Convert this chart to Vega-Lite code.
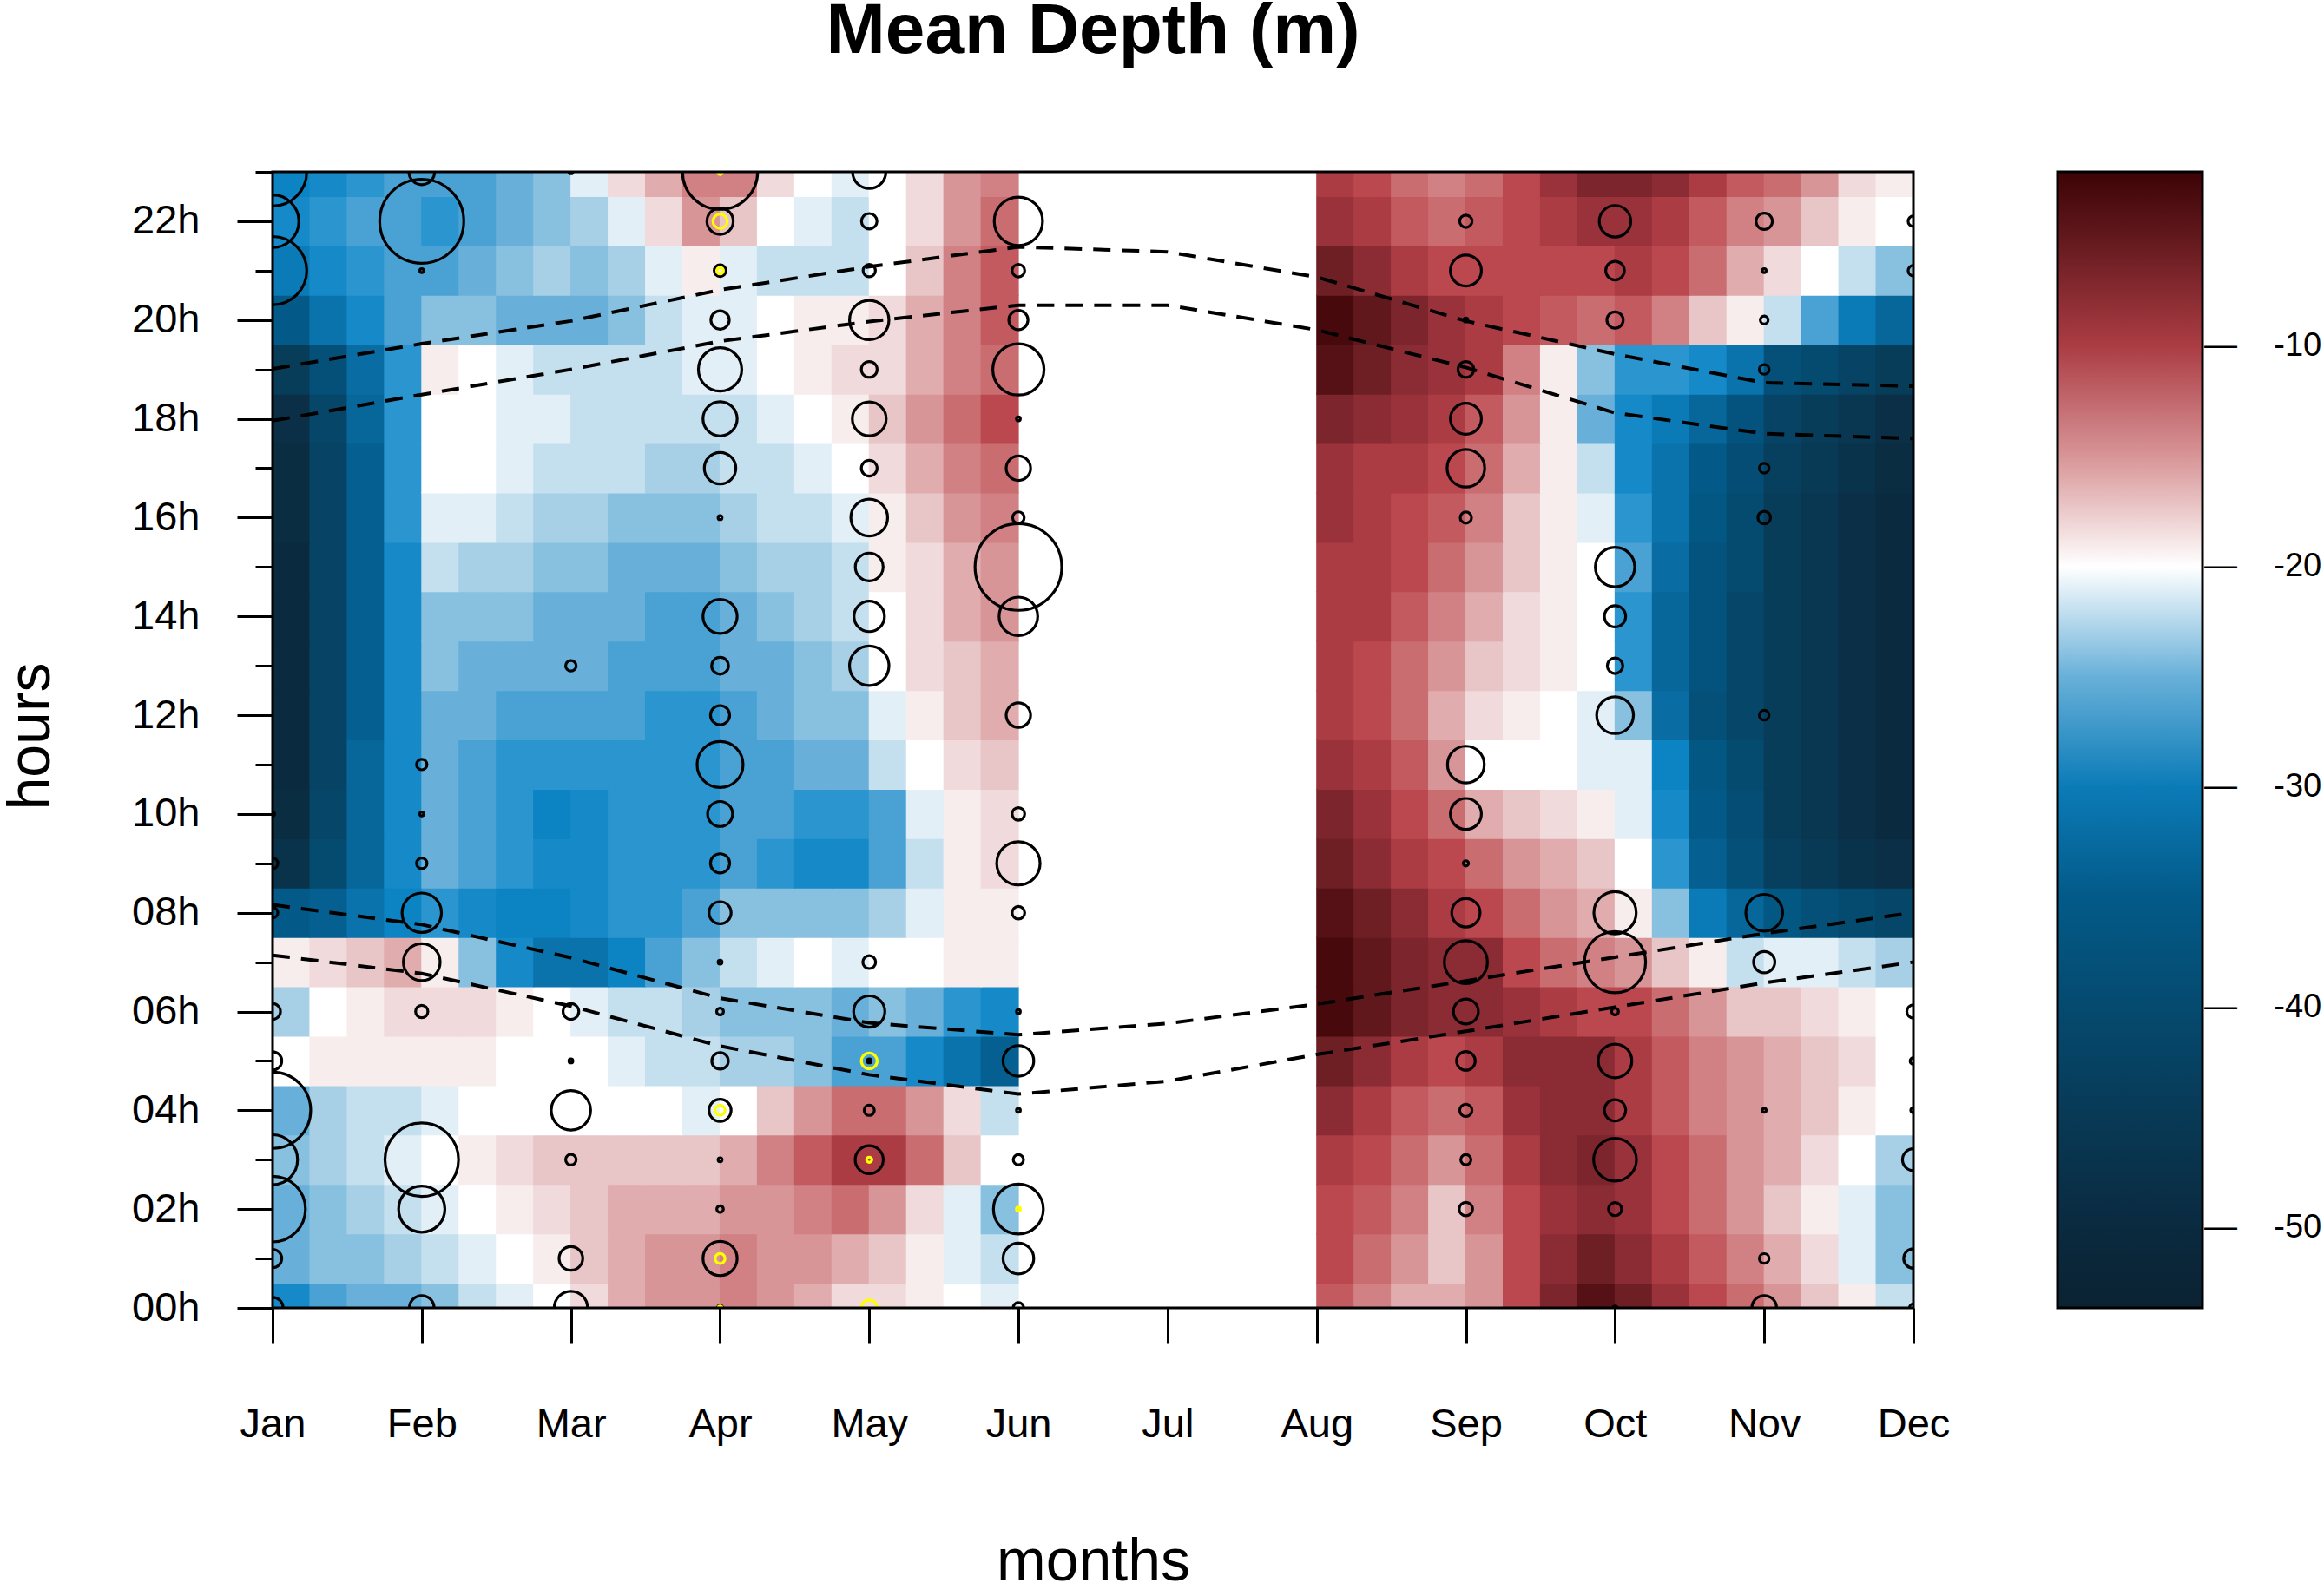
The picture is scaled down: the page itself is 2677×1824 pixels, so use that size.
{
  "$schema": "https://vega.github.io/schema/vega-lite/v6.json",
  "width": 1890,
  "height": 1309,
  "autosize": {"type": "none"},
  "padding": {"left": 314, "top": 198, "right": 473, "bottom": 317},
  "background": "white",
  "config": {
    "font": "Liberation Sans",
    "view": {"stroke": null}
  },
  "title": {
    "text": "Mean Depth (m)",
    "fontSize": 82,
    "fontWeight": "bold",
    "color": "black",
    "anchor": "middle",
    "baseline": "alphabetic",
    "offset": 31
  },
  "datasets": {
    "cells": [
      {"m":1.125,"h":0,"v":-28},{"m":1.375,"h":0,"v":-26},{"m":1.625,"h":0,"v":-25},{"m":1.875,"h":0,"v":-25},
      {"m":1.125,"h":1,"v":-25},{"m":1.375,"h":1,"v":-24},{"m":1.625,"h":1,"v":-24},{"m":1.875,"h":1,"v":-23},
      {"m":1.125,"h":2,"v":-25},{"m":1.375,"h":2,"v":-24},{"m":1.625,"h":2,"v":-23},{"m":1.875,"h":2,"v":-22},
      {"m":1.125,"h":3,"v":-24},{"m":1.375,"h":3,"v":-23},{"m":1.625,"h":3,"v":-22},{"m":1.875,"h":3,"v":-21},
      {"m":1.125,"h":4,"v":-25},{"m":1.375,"h":4,"v":-23},{"m":1.625,"h":4,"v":-22},{"m":1.875,"h":4,"v":-22},
      {"m":1.125,"h":5,"v":-20},{"m":1.375,"h":5,"v":-19},{"m":1.625,"h":5,"v":-19},{"m":1.875,"h":5,"v":-19},
      {"m":1.125,"h":6,"v":-23},{"m":1.375,"h":6,"v":-20},{"m":1.625,"h":6,"v":-19},{"m":1.875,"h":6,"v":-18},
      {"m":1.125,"h":7,"v":-19},{"m":1.375,"h":7,"v":-18},{"m":1.625,"h":7,"v":-17},{"m":1.875,"h":7,"v":-16},
      {"m":1.125,"h":8,"v":-35},{"m":1.375,"h":8,"v":-34},{"m":1.625,"h":8,"v":-31},{"m":1.875,"h":8,"v":-29},
      {"m":1.125,"h":9,"v":-47},{"m":1.375,"h":9,"v":-40},{"m":1.625,"h":9,"v":-33},{"m":1.875,"h":9,"v":-28},
      {"m":1.125,"h":10,"v":-49},{"m":1.375,"h":10,"v":-41},{"m":1.625,"h":10,"v":-33},{"m":1.875,"h":10,"v":-28},
      {"m":1.125,"h":11,"v":-50},{"m":1.375,"h":11,"v":-42},{"m":1.625,"h":11,"v":-33},{"m":1.875,"h":11,"v":-28},
      {"m":1.125,"h":12,"v":-50},{"m":1.375,"h":12,"v":-42},{"m":1.625,"h":12,"v":-34},{"m":1.875,"h":12,"v":-28},
      {"m":1.125,"h":13,"v":-50},{"m":1.375,"h":13,"v":-42},{"m":1.625,"h":13,"v":-34},{"m":1.875,"h":13,"v":-28},
      {"m":1.125,"h":14,"v":-50},{"m":1.375,"h":14,"v":-42},{"m":1.625,"h":14,"v":-34},{"m":1.875,"h":14,"v":-28},
      {"m":1.125,"h":15,"v":-50},{"m":1.375,"h":15,"v":-42},{"m":1.625,"h":15,"v":-34},{"m":1.875,"h":15,"v":-28},
      {"m":1.125,"h":16,"v":-49},{"m":1.375,"h":16,"v":-42},{"m":1.625,"h":16,"v":-34},{"m":1.875,"h":16,"v":-27},
      {"m":1.125,"h":17,"v":-49},{"m":1.375,"h":17,"v":-42},{"m":1.625,"h":17,"v":-34},{"m":1.875,"h":17,"v":-27},
      {"m":1.125,"h":18,"v":-48},{"m":1.375,"h":18,"v":-41},{"m":1.625,"h":18,"v":-33},{"m":1.875,"h":18,"v":-27},
      {"m":1.125,"h":19,"v":-44},{"m":1.375,"h":19,"v":-38},{"m":1.625,"h":19,"v":-32},{"m":1.875,"h":19,"v":-27},
      {"m":1.125,"h":20,"v":-35},{"m":1.375,"h":20,"v":-31},{"m":1.625,"h":20,"v":-28},{"m":1.875,"h":20,"v":-26},
      {"m":1.125,"h":21,"v":-30},{"m":1.375,"h":21,"v":-28},{"m":1.625,"h":21,"v":-27},{"m":1.875,"h":21,"v":-26},
      {"m":1.125,"h":22,"v":-28},{"m":1.375,"h":22,"v":-27},{"m":1.625,"h":22,"v":-26},{"m":1.875,"h":22,"v":-26},
      {"m":1.125,"h":23,"v":-29},{"m":1.375,"h":23,"v":-28},{"m":1.625,"h":23,"v":-27},{"m":1.875,"h":23,"v":-26},
      {"m":2.125,"h":0,"v":-24},{"m":2.375,"h":0,"v":-22},{"m":2.625,"h":0,"v":-21},{"m":2.875,"h":0,"v":-20},
      {"m":2.125,"h":1,"v":-22},{"m":2.375,"h":1,"v":-21},{"m":2.625,"h":1,"v":-20},{"m":2.875,"h":1,"v":-19},
      {"m":2.125,"h":2,"v":-21},{"m":2.375,"h":2,"v":-20},{"m":2.625,"h":2,"v":-19},{"m":2.875,"h":2,"v":-18},
      {"m":2.125,"h":3,"v":-20},{"m":2.375,"h":3,"v":-19},{"m":2.625,"h":3,"v":-18},{"m":2.875,"h":3,"v":-17},
      {"m":2.125,"h":4,"v":-21},{"m":2.375,"h":4,"v":-20},{"m":2.625,"h":4,"v":-20},{"m":2.875,"h":4,"v":-20},
      {"m":2.125,"h":5,"v":-19},{"m":2.375,"h":5,"v":-19},{"m":2.625,"h":5,"v":-20},{"m":2.875,"h":5,"v":-20},
      {"m":2.125,"h":6,"v":-18},{"m":2.375,"h":6,"v":-18},{"m":2.625,"h":6,"v":-19},{"m":2.875,"h":6,"v":-20},
      {"m":2.125,"h":7,"v":-19},{"m":2.375,"h":7,"v":-24},{"m":2.625,"h":7,"v":-28},{"m":2.875,"h":7,"v":-31},
      {"m":2.125,"h":8,"v":-27},{"m":2.375,"h":8,"v":-28},{"m":2.625,"h":8,"v":-29},{"m":2.875,"h":8,"v":-29},
      {"m":2.125,"h":9,"v":-25},{"m":2.375,"h":9,"v":-26},{"m":2.625,"h":9,"v":-27},{"m":2.875,"h":9,"v":-28},
      {"m":2.125,"h":10,"v":-25},{"m":2.375,"h":10,"v":-26},{"m":2.625,"h":10,"v":-27},{"m":2.875,"h":10,"v":-29},
      {"m":2.125,"h":11,"v":-25},{"m":2.375,"h":11,"v":-26},{"m":2.625,"h":11,"v":-27},{"m":2.875,"h":11,"v":-27},
      {"m":2.125,"h":12,"v":-25},{"m":2.375,"h":12,"v":-25},{"m":2.625,"h":12,"v":-26},{"m":2.875,"h":12,"v":-26},
      {"m":2.125,"h":13,"v":-24},{"m":2.375,"h":13,"v":-25},{"m":2.625,"h":13,"v":-25},{"m":2.875,"h":13,"v":-25},
      {"m":2.125,"h":14,"v":-24},{"m":2.375,"h":14,"v":-24},{"m":2.625,"h":14,"v":-24},{"m":2.875,"h":14,"v":-25},
      {"m":2.125,"h":15,"v":-22},{"m":2.375,"h":15,"v":-23},{"m":2.625,"h":15,"v":-23},{"m":2.875,"h":15,"v":-24},
      {"m":2.125,"h":16,"v":-21},{"m":2.375,"h":16,"v":-21},{"m":2.625,"h":16,"v":-22},{"m":2.875,"h":16,"v":-23},
      {"m":2.125,"h":17,"v":-20},{"m":2.375,"h":17,"v":-20},{"m":2.625,"h":17,"v":-21},{"m":2.875,"h":17,"v":-22},
      {"m":2.125,"h":18,"v":-20},{"m":2.375,"h":18,"v":-20},{"m":2.625,"h":18,"v":-21},{"m":2.875,"h":18,"v":-21},
      {"m":2.125,"h":19,"v":-19},{"m":2.375,"h":19,"v":-20},{"m":2.625,"h":19,"v":-21},{"m":2.875,"h":19,"v":-22},
      {"m":2.125,"h":20,"v":-24},{"m":2.375,"h":20,"v":-24},{"m":2.625,"h":20,"v":-25},{"m":2.875,"h":20,"v":-25},
      {"m":2.125,"h":21,"v":-26},{"m":2.375,"h":21,"v":-25},{"m":2.625,"h":21,"v":-24},{"m":2.875,"h":21,"v":-23},
      {"m":2.125,"h":22,"v":-27},{"m":2.375,"h":22,"v":-26},{"m":2.625,"h":22,"v":-25},{"m":2.875,"h":22,"v":-24},
      {"m":2.125,"h":23,"v":-26},{"m":2.375,"h":23,"v":-26},{"m":2.625,"h":23,"v":-25},{"m":2.875,"h":23,"v":-24},
      {"m":3.125,"h":0,"v":-18},{"m":3.375,"h":0,"v":-16},{"m":3.625,"h":0,"v":-15},{"m":3.875,"h":0,"v":-15},
      {"m":3.125,"h":1,"v":-17},{"m":3.375,"h":1,"v":-16},{"m":3.625,"h":1,"v":-15},{"m":3.875,"h":1,"v":-15},
      {"m":3.125,"h":2,"v":-17},{"m":3.375,"h":2,"v":-16},{"m":3.625,"h":2,"v":-16},{"m":3.875,"h":2,"v":-16},
      {"m":3.125,"h":3,"v":-17},{"m":3.375,"h":3,"v":-17},{"m":3.625,"h":3,"v":-17},{"m":3.875,"h":3,"v":-17},
      {"m":3.125,"h":4,"v":-20},{"m":3.375,"h":4,"v":-20},{"m":3.625,"h":4,"v":-20},{"m":3.875,"h":4,"v":-21},
      {"m":3.125,"h":5,"v":-20},{"m":3.375,"h":5,"v":-21},{"m":3.625,"h":5,"v":-22},{"m":3.875,"h":5,"v":-22},
      {"m":3.125,"h":6,"v":-21},{"m":3.375,"h":6,"v":-22},{"m":3.625,"h":6,"v":-22},{"m":3.875,"h":6,"v":-23},
      {"m":3.125,"h":7,"v":-31},{"m":3.375,"h":7,"v":-29},{"m":3.625,"h":7,"v":-26},{"m":3.875,"h":7,"v":-24},
      {"m":3.125,"h":8,"v":-28},{"m":3.375,"h":8,"v":-27},{"m":3.625,"h":8,"v":-27},{"m":3.875,"h":8,"v":-26},
      {"m":3.125,"h":9,"v":-28},{"m":3.375,"h":9,"v":-27},{"m":3.625,"h":9,"v":-27},{"m":3.875,"h":9,"v":-27},
      {"m":3.125,"h":10,"v":-28},{"m":3.375,"h":10,"v":-27},{"m":3.625,"h":10,"v":-27},{"m":3.875,"h":10,"v":-27},
      {"m":3.125,"h":11,"v":-27},{"m":3.375,"h":11,"v":-27},{"m":3.625,"h":11,"v":-27},{"m":3.875,"h":11,"v":-27},
      {"m":3.125,"h":12,"v":-26},{"m":3.375,"h":12,"v":-26},{"m":3.625,"h":12,"v":-27},{"m":3.875,"h":12,"v":-27},
      {"m":3.125,"h":13,"v":-25},{"m":3.375,"h":13,"v":-26},{"m":3.625,"h":13,"v":-26},{"m":3.875,"h":13,"v":-26},
      {"m":3.125,"h":14,"v":-25},{"m":3.375,"h":14,"v":-25},{"m":3.625,"h":14,"v":-26},{"m":3.875,"h":14,"v":-26},
      {"m":3.125,"h":15,"v":-24},{"m":3.375,"h":15,"v":-25},{"m":3.625,"h":15,"v":-25},{"m":3.875,"h":15,"v":-25},
      {"m":3.125,"h":16,"v":-23},{"m":3.375,"h":16,"v":-24},{"m":3.625,"h":16,"v":-24},{"m":3.875,"h":16,"v":-24},
      {"m":3.125,"h":17,"v":-22},{"m":3.375,"h":17,"v":-22},{"m":3.625,"h":17,"v":-23},{"m":3.875,"h":17,"v":-23},
      {"m":3.125,"h":18,"v":-22},{"m":3.375,"h":18,"v":-22},{"m":3.625,"h":18,"v":-22},{"m":3.875,"h":18,"v":-22},
      {"m":3.125,"h":19,"v":-22},{"m":3.375,"h":19,"v":-22},{"m":3.625,"h":19,"v":-22},{"m":3.875,"h":19,"v":-21},
      {"m":3.125,"h":20,"v":-25},{"m":3.375,"h":20,"v":-24},{"m":3.625,"h":20,"v":-22},{"m":3.875,"h":20,"v":-21},
      {"m":3.125,"h":21,"v":-24},{"m":3.375,"h":21,"v":-23},{"m":3.625,"h":21,"v":-21},{"m":3.875,"h":21,"v":-19},
      {"m":3.125,"h":22,"v":-23},{"m":3.375,"h":22,"v":-21},{"m":3.625,"h":22,"v":-18},{"m":3.875,"h":22,"v":-15},
      {"m":3.125,"h":23,"v":-21},{"m":3.375,"h":23,"v":-18},{"m":3.625,"h":23,"v":-16},{"m":3.875,"h":23,"v":-14},
      {"m":4.125,"h":0,"v":-14},{"m":4.375,"h":0,"v":-15},{"m":4.625,"h":0,"v":-16},{"m":4.875,"h":0,"v":-18},
      {"m":4.125,"h":1,"v":-14},{"m":4.375,"h":1,"v":-15},{"m":4.625,"h":1,"v":-15},{"m":4.875,"h":1,"v":-16},
      {"m":4.125,"h":2,"v":-15},{"m":4.375,"h":2,"v":-15},{"m":4.625,"h":2,"v":-14},{"m":4.875,"h":2,"v":-13},
      {"m":4.125,"h":3,"v":-16},{"m":4.375,"h":3,"v":-14},{"m":4.625,"h":3,"v":-12},{"m":4.875,"h":3,"v":-10},
      {"m":4.125,"h":4,"v":-20},{"m":4.375,"h":4,"v":-17},{"m":4.625,"h":4,"v":-15},{"m":4.875,"h":4,"v":-13},
      {"m":4.125,"h":5,"v":-23},{"m":4.375,"h":5,"v":-23},{"m":4.625,"h":5,"v":-24},{"m":4.875,"h":5,"v":-26},
      {"m":4.125,"h":6,"v":-24},{"m":4.375,"h":6,"v":-24},{"m":4.625,"h":6,"v":-24},{"m":4.875,"h":6,"v":-25},
      {"m":4.125,"h":7,"v":-22},{"m":4.375,"h":7,"v":-21},{"m":4.625,"h":7,"v":-20},{"m":4.875,"h":7,"v":-21},
      {"m":4.125,"h":8,"v":-24},{"m":4.375,"h":8,"v":-24},{"m":4.625,"h":8,"v":-24},{"m":4.875,"h":8,"v":-24},
      {"m":4.125,"h":9,"v":-26},{"m":4.375,"h":9,"v":-27},{"m":4.625,"h":9,"v":-28},{"m":4.875,"h":9,"v":-28},
      {"m":4.125,"h":10,"v":-26},{"m":4.375,"h":10,"v":-26},{"m":4.625,"h":10,"v":-27},{"m":4.875,"h":10,"v":-27},
      {"m":4.125,"h":11,"v":-26},{"m":4.375,"h":11,"v":-26},{"m":4.625,"h":11,"v":-25},{"m":4.875,"h":11,"v":-25},
      {"m":4.125,"h":12,"v":-26},{"m":4.375,"h":12,"v":-25},{"m":4.625,"h":12,"v":-24},{"m":4.875,"h":12,"v":-24},
      {"m":4.125,"h":13,"v":-25},{"m":4.375,"h":13,"v":-25},{"m":4.625,"h":13,"v":-24},{"m":4.875,"h":13,"v":-23},
      {"m":4.125,"h":14,"v":-25},{"m":4.375,"h":14,"v":-24},{"m":4.625,"h":14,"v":-23},{"m":4.875,"h":14,"v":-22},
      {"m":4.125,"h":15,"v":-24},{"m":4.375,"h":15,"v":-23},{"m":4.625,"h":15,"v":-23},{"m":4.875,"h":15,"v":-22},
      {"m":4.125,"h":16,"v":-23},{"m":4.375,"h":16,"v":-22},{"m":4.625,"h":16,"v":-22},{"m":4.875,"h":16,"v":-21},
      {"m":4.125,"h":17,"v":-22},{"m":4.375,"h":17,"v":-22},{"m":4.625,"h":17,"v":-21},{"m":4.875,"h":17,"v":-20},
      {"m":4.125,"h":18,"v":-22},{"m":4.375,"h":18,"v":-21},{"m":4.625,"h":18,"v":-20},{"m":4.875,"h":18,"v":-19},
      {"m":4.125,"h":19,"v":-21},{"m":4.375,"h":19,"v":-20},{"m":4.625,"h":19,"v":-19},{"m":4.875,"h":19,"v":-18},
      {"m":4.125,"h":20,"v":-21},{"m":4.375,"h":20,"v":-20},{"m":4.625,"h":20,"v":-19},{"m":4.875,"h":20,"v":-19},
      {"m":4.125,"h":21,"v":-21},{"m":4.375,"h":21,"v":-22},{"m":4.625,"h":21,"v":-22},{"m":4.875,"h":21,"v":-22},
      {"m":4.125,"h":22,"v":-17},{"m":4.375,"h":22,"v":-20},{"m":4.625,"h":22,"v":-21},{"m":4.875,"h":22,"v":-22},
      {"m":4.125,"h":23,"v":-14},{"m":4.375,"h":23,"v":-18},{"m":4.625,"h":23,"v":-20},{"m":4.875,"h":23,"v":-21},
      {"m":5.125,"h":0,"v":-18},{"m":5.375,"h":0,"v":-19},{"m":5.625,"h":0,"v":-20},{"m":5.875,"h":0,"v":-21},
      {"m":5.125,"h":1,"v":-17},{"m":5.375,"h":1,"v":-19},{"m":5.625,"h":1,"v":-21},{"m":5.875,"h":1,"v":-22},
      {"m":5.125,"h":2,"v":-15},{"m":5.375,"h":2,"v":-18},{"m":5.625,"h":2,"v":-21},{"m":5.875,"h":2,"v":-24},
      {"m":5.125,"h":3,"v":-10},{"m":5.375,"h":3,"v":-13},{"m":5.625,"h":3,"v":-17},{"m":5.875,"h":3,"v":-20},
      {"m":5.125,"h":4,"v":-13},{"m":5.375,"h":4,"v":-15},{"m":5.625,"h":4,"v":-18},{"m":5.875,"h":4,"v":-22},
      {"m":5.125,"h":5,"v":-26},{"m":5.375,"h":5,"v":-28},{"m":5.625,"h":5,"v":-31},{"m":5.875,"h":5,"v":-34},
      {"m":5.125,"h":6,"v":-24},{"m":5.375,"h":6,"v":-25},{"m":5.625,"h":6,"v":-27},{"m":5.875,"h":6,"v":-28},
      {"m":5.125,"h":7,"v":-20},{"m":5.375,"h":7,"v":-20},{"m":5.625,"h":7,"v":-19},{"m":5.875,"h":7,"v":-19},
      {"m":5.125,"h":8,"v":-23},{"m":5.375,"h":8,"v":-21},{"m":5.625,"h":8,"v":-19},{"m":5.875,"h":8,"v":-19},
      {"m":5.125,"h":9,"v":-26},{"m":5.375,"h":9,"v":-22},{"m":5.625,"h":9,"v":-19},{"m":5.875,"h":9,"v":-18},
      {"m":5.125,"h":10,"v":-26},{"m":5.375,"h":10,"v":-21},{"m":5.625,"h":10,"v":-19},{"m":5.875,"h":10,"v":-18},
      {"m":5.125,"h":11,"v":-22},{"m":5.375,"h":11,"v":-20},{"m":5.625,"h":11,"v":-18},{"m":5.875,"h":11,"v":-17},
      {"m":5.125,"h":12,"v":-21},{"m":5.375,"h":12,"v":-19},{"m":5.625,"h":12,"v":-17},{"m":5.875,"h":12,"v":-16},
      {"m":5.125,"h":13,"v":-20},{"m":5.375,"h":13,"v":-18},{"m":5.625,"h":13,"v":-17},{"m":5.875,"h":13,"v":-16},
      {"m":5.125,"h":14,"v":-20},{"m":5.375,"h":14,"v":-18},{"m":5.625,"h":14,"v":-16},{"m":5.875,"h":14,"v":-15},
      {"m":5.125,"h":15,"v":-19},{"m":5.375,"h":15,"v":-18},{"m":5.625,"h":15,"v":-16},{"m":5.875,"h":15,"v":-15},
      {"m":5.125,"h":16,"v":-19},{"m":5.375,"h":16,"v":-17},{"m":5.625,"h":16,"v":-15},{"m":5.875,"h":16,"v":-14},
      {"m":5.125,"h":17,"v":-18},{"m":5.375,"h":17,"v":-16},{"m":5.625,"h":17,"v":-14},{"m":5.875,"h":17,"v":-13},
      {"m":5.125,"h":18,"v":-17},{"m":5.375,"h":18,"v":-15},{"m":5.625,"h":18,"v":-13},{"m":5.875,"h":18,"v":-11},
      {"m":5.125,"h":19,"v":-18},{"m":5.375,"h":19,"v":-16},{"m":5.625,"h":19,"v":-14},{"m":5.875,"h":19,"v":-13},
      {"m":5.125,"h":20,"v":-18},{"m":5.375,"h":20,"v":-16},{"m":5.625,"h":20,"v":-14},{"m":5.875,"h":20,"v":-12},
      {"m":5.125,"h":21,"v":-20},{"m":5.375,"h":21,"v":-17},{"m":5.625,"h":21,"v":-14},{"m":5.875,"h":21,"v":-12},
      {"m":5.125,"h":22,"v":-20},{"m":5.375,"h":22,"v":-18},{"m":5.625,"h":22,"v":-15},{"m":5.875,"h":22,"v":-13},
      {"m":5.125,"h":23,"v":-20},{"m":5.375,"h":23,"v":-18},{"m":5.625,"h":23,"v":-15},{"m":5.875,"h":23,"v":-14},
      {"m":8.125,"h":0,"v":-12},{"m":8.375,"h":0,"v":-14},{"m":8.625,"h":0,"v":-16},{"m":8.875,"h":0,"v":-16},
      {"m":8.125,"h":1,"v":-11},{"m":8.375,"h":1,"v":-13},{"m":8.625,"h":1,"v":-15},{"m":8.875,"h":1,"v":-17},
      {"m":8.125,"h":2,"v":-11},{"m":8.375,"h":2,"v":-12},{"m":8.625,"h":2,"v":-14},{"m":8.875,"h":2,"v":-17},
      {"m":8.125,"h":3,"v":-10},{"m":8.375,"h":3,"v":-11},{"m":8.625,"h":3,"v":-13},{"m":8.875,"h":3,"v":-15},
      {"m":8.125,"h":4,"v":-8},{"m":8.375,"h":4,"v":-10},{"m":8.625,"h":4,"v":-12},{"m":8.875,"h":4,"v":-13},
      {"m":8.125,"h":5,"v":-6},{"m":8.375,"h":5,"v":-8},{"m":8.625,"h":5,"v":-10},{"m":8.875,"h":5,"v":-11},
      {"m":8.125,"h":6,"v":-3},{"m":8.375,"h":6,"v":-5},{"m":8.625,"h":6,"v":-7},{"m":8.875,"h":6,"v":-8},
      {"m":8.125,"h":7,"v":-3},{"m":8.375,"h":7,"v":-5},{"m":8.625,"h":7,"v":-7},{"m":8.875,"h":7,"v":-8},
      {"m":8.125,"h":8,"v":-4},{"m":8.375,"h":8,"v":-6},{"m":8.625,"h":8,"v":-8},{"m":8.875,"h":8,"v":-10},
      {"m":8.125,"h":9,"v":-6},{"m":8.375,"h":9,"v":-8},{"m":8.625,"h":9,"v":-10},{"m":8.875,"h":9,"v":-11},
      {"m":8.125,"h":10,"v":-7},{"m":8.375,"h":10,"v":-9},{"m":8.625,"h":10,"v":-11},{"m":8.875,"h":10,"v":-13},
      {"m":8.125,"h":11,"v":-9},{"m":8.375,"h":11,"v":-10},{"m":8.625,"h":11,"v":-12},{"m":8.875,"h":11,"v":-15},
      {"m":8.125,"h":12,"v":-10},{"m":8.375,"h":12,"v":-11},{"m":8.625,"h":12,"v":-13},{"m":8.875,"h":12,"v":-16},
      {"m":8.125,"h":13,"v":-10},{"m":8.375,"h":13,"v":-11},{"m":8.625,"h":13,"v":-13},{"m":8.875,"h":13,"v":-15},
      {"m":8.125,"h":14,"v":-10},{"m":8.375,"h":14,"v":-10},{"m":8.625,"h":14,"v":-12},{"m":8.875,"h":14,"v":-14},
      {"m":8.125,"h":15,"v":-10},{"m":8.375,"h":15,"v":-10},{"m":8.625,"h":15,"v":-11},{"m":8.875,"h":15,"v":-13},
      {"m":8.125,"h":16,"v":-9},{"m":8.375,"h":16,"v":-10},{"m":8.625,"h":16,"v":-11},{"m":8.875,"h":16,"v":-12},
      {"m":8.125,"h":17,"v":-9},{"m":8.375,"h":17,"v":-10},{"m":8.625,"h":17,"v":-10},{"m":8.875,"h":17,"v":-11},
      {"m":8.125,"h":18,"v":-7},{"m":8.375,"h":18,"v":-8},{"m":8.625,"h":18,"v":-9},{"m":8.875,"h":18,"v":-10},
      {"m":8.125,"h":19,"v":-4},{"m":8.375,"h":19,"v":-6},{"m":8.625,"h":19,"v":-8},{"m":8.875,"h":19,"v":-9},
      {"m":8.125,"h":20,"v":-3},{"m":8.375,"h":20,"v":-5},{"m":8.625,"h":20,"v":-7},{"m":8.875,"h":20,"v":-9},
      {"m":8.125,"h":21,"v":-6},{"m":8.375,"h":21,"v":-8},{"m":8.625,"h":21,"v":-10},{"m":8.875,"h":21,"v":-11},
      {"m":8.125,"h":22,"v":-9},{"m":8.375,"h":22,"v":-10},{"m":8.625,"h":22,"v":-12},{"m":8.875,"h":22,"v":-13},
      {"m":8.125,"h":23,"v":-10},{"m":8.375,"h":23,"v":-11},{"m":8.625,"h":23,"v":-13},{"m":8.875,"h":23,"v":-14},
      {"m":9.125,"h":0,"v":-15},{"m":9.375,"h":0,"v":-11},{"m":9.625,"h":0,"v":-7},{"m":9.875,"h":0,"v":-4},
      {"m":9.125,"h":1,"v":-15},{"m":9.375,"h":1,"v":-11},{"m":9.625,"h":1,"v":-8},{"m":9.875,"h":1,"v":-6},
      {"m":9.125,"h":2,"v":-14},{"m":9.375,"h":2,"v":-11},{"m":9.625,"h":2,"v":-9},{"m":9.875,"h":2,"v":-8},
      {"m":9.125,"h":3,"v":-13},{"m":9.375,"h":3,"v":-10},{"m":9.625,"h":3,"v":-8},{"m":9.875,"h":3,"v":-7},
      {"m":9.125,"h":4,"v":-12},{"m":9.375,"h":4,"v":-9},{"m":9.625,"h":4,"v":-8},{"m":9.875,"h":4,"v":-8},
      {"m":9.125,"h":5,"v":-10},{"m":9.375,"h":5,"v":-8},{"m":9.625,"h":5,"v":-8},{"m":9.875,"h":5,"v":-8},
      {"m":9.125,"h":6,"v":-8},{"m":9.375,"h":6,"v":-9},{"m":9.625,"h":6,"v":-10},{"m":9.875,"h":6,"v":-11},
      {"m":9.125,"h":7,"v":-8},{"m":9.375,"h":7,"v":-11},{"m":9.625,"h":7,"v":-13},{"m":9.875,"h":7,"v":-14},
      {"m":9.125,"h":8,"v":-11},{"m":9.375,"h":8,"v":-13},{"m":9.625,"h":8,"v":-15},{"m":9.875,"h":8,"v":-16},
      {"m":9.125,"h":9,"v":-13},{"m":9.375,"h":9,"v":-15},{"m":9.625,"h":9,"v":-16},{"m":9.875,"h":9,"v":-17},
      {"m":9.125,"h":10,"v":-16},{"m":9.375,"h":10,"v":-17},{"m":9.625,"h":10,"v":-18},{"m":9.875,"h":10,"v":-19},
      {"m":9.125,"h":11,"v":-20},{"m":9.375,"h":11,"v":-20},{"m":9.625,"h":11,"v":-20},{"m":9.875,"h":11,"v":-21},
      {"m":9.125,"h":12,"v":-18},{"m":9.375,"h":12,"v":-19},{"m":9.625,"h":12,"v":-20},{"m":9.875,"h":12,"v":-21},
      {"m":9.125,"h":13,"v":-17},{"m":9.375,"h":13,"v":-18},{"m":9.625,"h":13,"v":-19},{"m":9.875,"h":13,"v":-20},
      {"m":9.125,"h":14,"v":-16},{"m":9.375,"h":14,"v":-18},{"m":9.625,"h":14,"v":-19},{"m":9.875,"h":14,"v":-20},
      {"m":9.125,"h":15,"v":-15},{"m":9.375,"h":15,"v":-17},{"m":9.625,"h":15,"v":-19},{"m":9.875,"h":15,"v":-20},
      {"m":9.125,"h":16,"v":-14},{"m":9.375,"h":16,"v":-17},{"m":9.625,"h":16,"v":-19},{"m":9.875,"h":16,"v":-21},
      {"m":9.125,"h":17,"v":-13},{"m":9.375,"h":17,"v":-16},{"m":9.625,"h":17,"v":-19},{"m":9.875,"h":17,"v":-22},
      {"m":9.125,"h":18,"v":-12},{"m":9.375,"h":18,"v":-15},{"m":9.625,"h":18,"v":-19},{"m":9.875,"h":18,"v":-25},
      {"m":9.125,"h":19,"v":-10},{"m":9.375,"h":19,"v":-14},{"m":9.625,"h":19,"v":-19},{"m":9.875,"h":19,"v":-24},
      {"m":9.125,"h":20,"v":-10},{"m":9.375,"h":20,"v":-11},{"m":9.625,"h":20,"v":-12},{"m":9.875,"h":20,"v":-13},
      {"m":9.125,"h":21,"v":-11},{"m":9.375,"h":21,"v":-11},{"m":9.625,"h":21,"v":-11},{"m":9.875,"h":21,"v":-11},
      {"m":9.125,"h":22,"v":-12},{"m":9.375,"h":22,"v":-11},{"m":9.625,"h":22,"v":-10},{"m":9.875,"h":22,"v":-9},
      {"m":9.125,"h":23,"v":-13},{"m":9.375,"h":23,"v":-11},{"m":9.625,"h":23,"v":-9},{"m":9.875,"h":23,"v":-7},
      {"m":10.125,"h":0,"v":-6},{"m":10.375,"h":0,"v":-9},{"m":10.625,"h":0,"v":-11},{"m":10.875,"h":0,"v":-13},
      {"m":10.125,"h":1,"v":-8},{"m":10.375,"h":1,"v":-10},{"m":10.625,"h":1,"v":-12},{"m":10.875,"h":1,"v":-14},
      {"m":10.125,"h":2,"v":-9},{"m":10.375,"h":2,"v":-11},{"m":10.625,"h":2,"v":-13},{"m":10.875,"h":2,"v":-15},
      {"m":10.125,"h":3,"v":-9},{"m":10.375,"h":3,"v":-11},{"m":10.625,"h":3,"v":-13},{"m":10.875,"h":3,"v":-15},
      {"m":10.125,"h":4,"v":-10},{"m":10.375,"h":4,"v":-12},{"m":10.625,"h":4,"v":-14},{"m":10.875,"h":4,"v":-15},
      {"m":10.125,"h":5,"v":-10},{"m":10.375,"h":5,"v":-12},{"m":10.625,"h":5,"v":-14},{"m":10.875,"h":5,"v":-15},
      {"m":10.125,"h":6,"v":-11},{"m":10.375,"h":6,"v":-13},{"m":10.625,"h":6,"v":-15},{"m":10.875,"h":6,"v":-17},
      {"m":10.125,"h":7,"v":-15},{"m":10.375,"h":7,"v":-17},{"m":10.625,"h":7,"v":-19},{"m":10.875,"h":7,"v":-22},
      {"m":10.125,"h":8,"v":-19},{"m":10.375,"h":8,"v":-24},{"m":10.625,"h":8,"v":-30},{"m":10.875,"h":8,"v":-33},
      {"m":10.125,"h":9,"v":-20},{"m":10.375,"h":9,"v":-27},{"m":10.625,"h":9,"v":-34},{"m":10.875,"h":9,"v":-38},
      {"m":10.125,"h":10,"v":-21},{"m":10.375,"h":10,"v":-28},{"m":10.625,"h":10,"v":-35},{"m":10.875,"h":10,"v":-39},
      {"m":10.125,"h":11,"v":-21},{"m":10.375,"h":11,"v":-29},{"m":10.625,"h":11,"v":-36},{"m":10.875,"h":11,"v":-40},
      {"m":10.125,"h":12,"v":-24},{"m":10.375,"h":12,"v":-32},{"m":10.625,"h":12,"v":-38},{"m":10.875,"h":12,"v":-41},
      {"m":10.125,"h":13,"v":-27},{"m":10.375,"h":13,"v":-33},{"m":10.625,"h":13,"v":-37},{"m":10.875,"h":13,"v":-41},
      {"m":10.125,"h":14,"v":-27},{"m":10.375,"h":14,"v":-33},{"m":10.625,"h":14,"v":-37},{"m":10.875,"h":14,"v":-41},
      {"m":10.125,"h":15,"v":-26},{"m":10.375,"h":15,"v":-32},{"m":10.625,"h":15,"v":-37},{"m":10.875,"h":15,"v":-40},
      {"m":10.125,"h":16,"v":-27},{"m":10.375,"h":16,"v":-31},{"m":10.625,"h":16,"v":-36},{"m":10.875,"h":16,"v":-40},
      {"m":10.125,"h":17,"v":-28},{"m":10.375,"h":17,"v":-31},{"m":10.625,"h":17,"v":-35},{"m":10.875,"h":17,"v":-39},
      {"m":10.125,"h":18,"v":-28},{"m":10.375,"h":18,"v":-30},{"m":10.625,"h":18,"v":-33},{"m":10.875,"h":18,"v":-37},
      {"m":10.125,"h":19,"v":-27},{"m":10.375,"h":19,"v":-27},{"m":10.625,"h":19,"v":-28},{"m":10.875,"h":19,"v":-31},
      {"m":10.125,"h":20,"v":-12},{"m":10.375,"h":20,"v":-14},{"m":10.625,"h":20,"v":-17},{"m":10.875,"h":20,"v":-19},
      {"m":10.125,"h":21,"v":-10},{"m":10.375,"h":21,"v":-11},{"m":10.625,"h":21,"v":-13},{"m":10.875,"h":21,"v":-16},
      {"m":10.125,"h":22,"v":-9},{"m":10.375,"h":22,"v":-10},{"m":10.625,"h":22,"v":-12},{"m":10.875,"h":22,"v":-14},
      {"m":10.125,"h":23,"v":-7},{"m":10.375,"h":23,"v":-8},{"m":10.625,"h":23,"v":-10},{"m":10.875,"h":23,"v":-12},
      {"m":11.125,"h":0,"v":-15},{"m":11.375,"h":0,"v":-17},{"m":11.625,"h":0,"v":-19},{"m":11.875,"h":0,"v":-22},
      {"m":11.125,"h":1,"v":-16},{"m":11.375,"h":1,"v":-18},{"m":11.625,"h":1,"v":-21},{"m":11.875,"h":1,"v":-24},
      {"m":11.125,"h":2,"v":-17},{"m":11.375,"h":2,"v":-19},{"m":11.625,"h":2,"v":-21},{"m":11.875,"h":2,"v":-24},
      {"m":11.125,"h":3,"v":-16},{"m":11.375,"h":3,"v":-18},{"m":11.625,"h":3,"v":-20},{"m":11.875,"h":3,"v":-23},
      {"m":11.125,"h":4,"v":-16},{"m":11.375,"h":4,"v":-17},{"m":11.625,"h":4,"v":-19},{"m":11.875,"h":4,"v":-20},
      {"m":11.125,"h":5,"v":-16},{"m":11.375,"h":5,"v":-17},{"m":11.625,"h":5,"v":-18},{"m":11.875,"h":5,"v":-20},
      {"m":11.125,"h":6,"v":-17},{"m":11.375,"h":6,"v":-18},{"m":11.625,"h":6,"v":-19},{"m":11.875,"h":6,"v":-20},
      {"m":11.125,"h":7,"v":-21},{"m":11.375,"h":7,"v":-21},{"m":11.625,"h":7,"v":-22},{"m":11.875,"h":7,"v":-23},
      {"m":11.125,"h":8,"v":-36},{"m":11.375,"h":8,"v":-38},{"m":11.625,"h":8,"v":-40},{"m":11.875,"h":8,"v":-41},
      {"m":11.125,"h":9,"v":-43},{"m":11.375,"h":9,"v":-45},{"m":11.625,"h":9,"v":-47},{"m":11.875,"h":9,"v":-48},
      {"m":11.125,"h":10,"v":-44},{"m":11.375,"h":10,"v":-46},{"m":11.625,"h":10,"v":-48},{"m":11.875,"h":10,"v":-50},
      {"m":11.125,"h":11,"v":-44},{"m":11.375,"h":11,"v":-46},{"m":11.625,"h":11,"v":-48},{"m":11.875,"h":11,"v":-50},
      {"m":11.125,"h":12,"v":-44},{"m":11.375,"h":12,"v":-46},{"m":11.625,"h":12,"v":-48},{"m":11.875,"h":12,"v":-50},
      {"m":11.125,"h":13,"v":-44},{"m":11.375,"h":13,"v":-46},{"m":11.625,"h":13,"v":-48},{"m":11.875,"h":13,"v":-50},
      {"m":11.125,"h":14,"v":-44},{"m":11.375,"h":14,"v":-46},{"m":11.625,"h":14,"v":-48},{"m":11.875,"h":14,"v":-50},
      {"m":11.125,"h":15,"v":-44},{"m":11.375,"h":15,"v":-46},{"m":11.625,"h":15,"v":-48},{"m":11.875,"h":15,"v":-50},
      {"m":11.125,"h":16,"v":-44},{"m":11.375,"h":16,"v":-46},{"m":11.625,"h":16,"v":-48},{"m":11.875,"h":16,"v":-50},
      {"m":11.125,"h":17,"v":-43},{"m":11.375,"h":17,"v":-45},{"m":11.625,"h":17,"v":-47},{"m":11.875,"h":17,"v":-49},
      {"m":11.125,"h":18,"v":-42},{"m":11.375,"h":18,"v":-44},{"m":11.625,"h":18,"v":-46},{"m":11.875,"h":18,"v":-48},
      {"m":11.125,"h":19,"v":-38},{"m":11.375,"h":19,"v":-40},{"m":11.625,"h":19,"v":-42},{"m":11.875,"h":19,"v":-44},
      {"m":11.125,"h":20,"v":-22},{"m":11.375,"h":20,"v":-26},{"m":11.625,"h":20,"v":-30},{"m":11.875,"h":20,"v":-33},
      {"m":11.125,"h":21,"v":-18},{"m":11.375,"h":21,"v":-20},{"m":11.625,"h":21,"v":-22},{"m":11.875,"h":21,"v":-24},
      {"m":11.125,"h":22,"v":-15},{"m":11.375,"h":22,"v":-17},{"m":11.625,"h":22,"v":-19},{"m":11.875,"h":22,"v":-20},
      {"m":11.125,"h":23,"v":-13},{"m":11.375,"h":23,"v":-15},{"m":11.625,"h":23,"v":-18},{"m":11.875,"h":23,"v":-19}
    ],
    "sun": [
      {"c":"a","m":1,"h":19.01},{"c":"a","m":2,"h":19.52},{"c":"a","m":3,"h":19.98},{"c":"a","m":4,"h":20.61},{"c":"a","m":5,"h":21.08},{"c":"a","m":6,"h":21.48},{"c":"a","m":7,"h":21.38},{"c":"a","m":8,"h":20.87},{"c":"a","m":9,"h":19.98},{"c":"a","m":10,"h":19.31},{"c":"a","m":11,"h":18.73},{"c":"a","m":12,"h":18.66},
      {"c":"b","m":1,"h":17.96},{"c":"b","m":2,"h":18.49},{"c":"b","m":3,"h":19.0},{"c":"b","m":4,"h":19.57},{"c":"b","m":5,"h":19.97},{"c":"b","m":6,"h":20.3},{"c":"b","m":7,"h":20.3},{"c":"b","m":8,"h":19.8},{"c":"b","m":9,"h":19.04},{"c":"b","m":10,"h":18.12},{"c":"b","m":11,"h":17.7},{"c":"b","m":12,"h":17.6},
      {"c":"c","m":1,"h":8.16},{"c":"c","m":2,"h":7.76},{"c":"c","m":3,"h":7.09},{"c":"c","m":4,"h":6.27},{"c":"c","m":5,"h":5.77},{"c":"c","m":6,"h":5.53},{"c":"c","m":7,"h":5.76},{"c":"c","m":8,"h":6.15},{"c":"c","m":9,"h":6.62},{"c":"c","m":10,"h":7.1},{"c":"c","m":11,"h":7.58},{"c":"c","m":12,"h":8.0},
      {"c":"d","m":1,"h":7.14},{"c":"d","m":2,"h":6.77},{"c":"d","m":3,"h":6.11},{"c":"d","m":4,"h":5.3},{"c":"d","m":5,"h":4.72},{"c":"d","m":6,"h":4.33},{"c":"d","m":7,"h":4.59},{"c":"d","m":8,"h":5.13},{"c":"d","m":9,"h":5.6},{"c":"d","m":10,"h":6.09},{"c":"d","m":11,"h":6.58},{"c":"d","m":12,"h":7.0}
    ],
    "obs": [
      {"m":1,"h":23,"n":26},{"m":1,"h":22,"n":20},{"m":1,"h":21,"n":26},{"m":1,"h":10,"n":1.5},{"m":1,"h":9,"n":4},{"m":1,"h":8,"n":4},{"m":1,"h":6,"n":6},{"m":1,"h":5,"n":7},{"m":1,"h":4,"n":29},{"m":1,"h":3,"n":19},{"m":1,"h":2,"n":25},{"m":1,"h":1,"n":7},{"m":1,"h":0,"n":8},
      {"m":2,"h":23,"n":9.8},{"m":2,"h":22,"n":32},{"m":2,"h":21,"n":1.5},{"m":2,"h":11,"n":4},{"m":2,"h":10,"n":1.5},{"m":2,"h":9,"n":4},{"m":2,"h":8,"n":15},{"m":2,"h":7,"n":14},{"m":2,"h":6,"n":4.7},{"m":2,"h":3,"n":28},{"m":2,"h":2,"n":17.6},{"m":2,"h":0,"n":9.4},
      {"m":3,"h":23,"n":1.5},{"m":3,"h":13,"n":4},{"m":3,"h":6,"n":6},{"m":3,"h":5,"n":1.5},{"m":3,"h":4,"n":15},{"m":3,"h":3,"n":4},{"m":3,"h":1,"n":9},{"m":3,"h":0,"n":12.7},
      {"m":4,"h":23,"n":28.6},{"m":4,"h":22,"n":10},{"m":4,"h":21,"n":4.5},{"m":4,"h":20,"n":7},{"m":4,"h":19,"n":16.5},{"m":4,"h":18,"n":13},{"m":4,"h":17,"n":12},{"m":4,"h":16,"n":1.5},{"m":4,"h":14,"n":13},{"m":4,"h":13,"n":6.4},{"m":4,"h":12,"n":7.3},{"m":4,"h":11,"n":17.5},{"m":4,"h":10,"n":9.5},{"m":4,"h":9,"n":7.3},{"m":4,"h":8,"n":8.4},{"m":4,"h":7,"n":1.5},{"m":4,"h":6,"n":2.6},{"m":4,"h":5,"n":6.3},{"m":4,"h":4,"n":8.4},{"m":4,"h":3,"n":1.5},{"m":4,"h":2,"n":2.5},{"m":4,"h":1,"n":13},{"m":4,"h":0,"n":2},
      {"m":5,"h":23,"n":12.7},{"m":5,"h":22,"n":5.9},{"m":5,"h":21,"n":4.7},{"m":5,"h":20,"n":15},{"m":5,"h":19,"n":6},{"m":5,"h":18,"n":12.9},{"m":5,"h":17,"n":6},{"m":5,"h":16,"n":14},{"m":5,"h":15,"n":10.6},{"m":5,"h":14,"n":11.6},{"m":5,"h":13,"n":15},{"m":5,"h":7,"n":4.9},{"m":5,"h":6,"n":11.9},{"m":5,"h":5,"n":1.5},{"m":5,"h":4,"n":3.9},{"m":5,"h":3,"n":10.7},
      {"m":6,"h":22,"n":18.4},{"m":6,"h":21,"n":4.8},{"m":6,"h":20,"n":7.3},{"m":6,"h":19,"n":19.5},{"m":6,"h":18,"n":1.5},{"m":6,"h":17,"n":9.3},{"m":6,"h":16,"n":4.4},{"m":6,"h":15,"n":33},{"m":6,"h":14,"n":14.7},{"m":6,"h":12,"n":9.3},{"m":6,"h":10,"n":4.8},{"m":6,"h":9,"n":16.5},{"m":6,"h":8,"n":4.8},{"m":6,"h":6,"n":1.5},{"m":6,"h":5,"n":11.7},{"m":6,"h":4,"n":1.5},{"m":6,"h":3,"n":3.9},{"m":6,"h":2,"n":19},{"m":6,"h":1,"n":11.7},{"m":6,"h":0,"n":4},
      {"m":9,"h":22,"n":4.7},{"m":9,"h":21,"n":11.8},{"m":9,"h":20,"n":1.5},{"m":9,"h":19,"n":6},{"m":9,"h":18,"n":11.8},{"m":9,"h":17,"n":14.3},{"m":9,"h":16,"n":4.3},{"m":9,"h":11,"n":14},{"m":9,"h":10,"n":11.8},{"m":9,"h":9,"n":2},{"m":9,"h":8,"n":10.8},{"m":9,"h":7,"n":16.4},{"m":9,"h":6,"n":9.5},{"m":9,"h":5,"n":7.1},{"m":9,"h":4,"n":4.7},{"m":9,"h":3,"n":3.9},{"m":9,"h":2,"n":5.1},
      {"m":10,"h":22,"n":12},{"m":10,"h":21,"n":7.1},{"m":10,"h":20,"n":6.2},{"m":10,"h":15,"n":15},{"m":10,"h":14,"n":8.1},{"m":10,"h":13,"n":5.9},{"m":10,"h":12,"n":14},{"m":10,"h":8,"n":16.1},{"m":10,"h":7,"n":23.3},{"m":10,"h":6,"n":2.6},{"m":10,"h":5,"n":12.8},{"m":10,"h":4,"n":8.1},{"m":10,"h":3,"n":16.3},{"m":10,"h":2,"n":5},{"m":10,"h":0,"n":1.5},
      {"m":11,"h":22,"n":6.2},{"m":11,"h":21,"n":1.5},{"m":11,"h":20,"n":3},{"m":11,"h":19,"n":3.7},{"m":11,"h":17,"n":3.7},{"m":11,"h":16,"n":4.8},{"m":11,"h":12,"n":3.7},{"m":11,"h":8,"n":14},{"m":11,"h":7,"n":8.1},{"m":11,"h":4,"n":1.5},{"m":11,"h":1,"n":3.7},{"m":11,"h":0,"n":9.4},
      {"m":12,"h":22,"n":4},{"m":12,"h":21,"n":4},{"m":12,"h":6,"n":5},{"m":12,"h":5,"n":2.5},{"m":12,"h":4,"n":2},{"m":12,"h":3,"n":8.3},{"m":12,"h":1,"n":7.4},{"m":12,"h":0,"n":3}
    ],
    "flagged": [
      {"m":4,"h":23,"n":2},{"m":4,"h":22,"n":5.4},{"m":4,"h":21,"n":2.5},{"m":4,"h":4,"n":3.8},{"m":4,"h":1,"n":3.8},{"m":4,"h":0,"n":1.5},
      {"m":5,"h":5,"n":6},{"m":5,"h":3,"n":2},{"m":5,"h":0,"n":6},{"m":6,"h":2,"n":1.5}
    ],
    "frame": [{"m0":1,"m1":12,"h0":0,"h1":23}]
  },
  "layer": [
    {
      "data": {"name": "cells"},
      "mark": {"type": "rect", "width": 44, "height": 58, "clip": true},
      "encoding": {
        "x": {
          "field": "m",
          "type": "quantitative",
          "scale": {"domain": [1, 12], "nice": false, "zero": false},
          "axis": {
            "values": [1, 2, 3, 4, 5, 6, 7, 8, 9, 10, 11, 12],
            "labelExpr": "['Jan','Feb','Mar','Apr','May','Jun','Jul','Aug','Sep','Oct','Nov','Dec'][datum.value - 1]",
            "grid": false,
            "domain": false,
            "tickSize": 41,
            "tickWidth": 3,
            "tickColor": "black",
            "labelFontSize": 47,
            "labelColor": "black",
            "labelBaseline": "middle",
            "labelPadding": 93,
            "labelFlush": false,
            "labelOverlap": false,
            "title": "months",
            "titleFontSize": 68,
            "titleFontWeight": "normal",
            "titleColor": "black",
            "titleBaseline": "alphabetic",
            "titleX": 945,
            "titleY": 313
          }
        },
        "y": {
          "field": "h",
          "type": "quantitative",
          "scale": {"domain": [0, 23], "nice": false, "zero": false},
          "axis": {
            "values": [0, 1, 2, 3, 4, 5, 6, 7, 8, 9, 10, 11, 12, 13, 14, 15, 16, 17, 18, 19, 20, 21, 22, 23],
            "labelExpr": "datum.value % 2 == 0 ? (datum.value < 10 ? '0' : '') + datum.value + 'h' : ''",
            "grid": false,
            "domain": false,
            "tickSize": {"condition": {"test": "datum.value % 2 == 0", "value": 41}, "value": 20},
            "tickWidth": 3,
            "tickColor": "black",
            "labelFontSize": 47,
            "labelColor": "black",
            "labelPadding": 43,
            "labelFlush": false,
            "labelOverlap": false,
            "title": "hours",
            "titleFontSize": 68,
            "titleFontWeight": "normal",
            "titleColor": "black",
            "titleAngle": -90,
            "titleAlign": "center",
            "titleBaseline": "alphabetic",
            "titleX": -258,
            "titleY": 650
          }
        },
        "color": {
          "field": "v",
          "type": "quantitative",
          "scale": {
            "type": "linear",
            "interpolate": "rgb",
            "domain": [-53.6, -48, -43, -38, -35, -31.5, -29, -27.5, -25.5, -23.5, -21.5, -20, -17.5, -15.2, -12.8, -10.8, -8.7, -6, -2.1],
            "range": ["#0b2232", "#0a2f46", "#07405f", "#045079", "#035a88", "#0a6fa7", "#0c83c2", "#1b8ecb", "#58a8d6", "#98c8e3", "#d3e7f2", "#ffffff", "#ecd1d2", "#d9999b", "#c8696d", "#b9444b", "#952f39", "#6e1f24", "#3d0306"]
          },
          "legend": {
            "orient": "none",
            "legendX": 2056,
            "legendY": 0,
            "direction": "vertical",
            "title": null,
            "padding": 0,
            "gradientLength": 1309,
            "gradientThickness": 167,
            "gradientStrokeColor": "black",
            "gradientStrokeWidth": 3,
            "values": [-50, -40, -30, -20, -10],
            "labelExpr": "'\u2014\u00a0\u00a0\u00a0\u00a0' + datum.value",
            "labelFontSize": 38,
            "labelColor": "black",
            "labelOffset": 2,
            "labelOverlap": false
          }
        }
      }
    },
    {
      "data": {"name": "sun"},
      "mark": {"type": "line", "color": "black", "strokeWidth": 4, "strokeDash": [20, 13]},
      "encoding": {
        "x": {"field": "m", "type": "quantitative"},
        "y": {"field": "h", "type": "quantitative"},
        "detail": {"field": "c", "type": "nominal"}
      }
    },
    {
      "data": {"name": "obs"},
      "mark": {"type": "point", "shape": "circle", "filled": false, "stroke": "black", "strokeWidth": 3.2, "opacity": 1, "clip": true},
      "encoding": {
        "x": {"field": "m", "type": "quantitative"},
        "y": {"field": "h", "type": "quantitative"},
        "size": {
          "field": "n",
          "type": "quantitative",
          "scale": {"type": "pow", "exponent": 2, "domain": [0, 40], "range": [0, 14652]},
          "legend": null
        }
      }
    },
    {
      "data": {"name": "flagged"},
      "mark": {"type": "point", "shape": "circle", "filled": false, "stroke": "#ffff00", "strokeWidth": 3.2, "opacity": 1, "clip": true},
      "encoding": {
        "x": {"field": "m", "type": "quantitative"},
        "y": {"field": "h", "type": "quantitative"},
        "size": {"field": "n", "type": "quantitative", "legend": null}
      }
    },
    {
      "data": {"name": "frame"},
      "mark": {"type": "rect", "filled": false, "stroke": "black", "strokeWidth": 3},
      "encoding": {
        "x": {"field": "m0", "type": "quantitative"},
        "x2": {"field": "m1"},
        "y": {"field": "h0", "type": "quantitative"},
        "y2": {"field": "h1"}
      }
    }
  ]
}
